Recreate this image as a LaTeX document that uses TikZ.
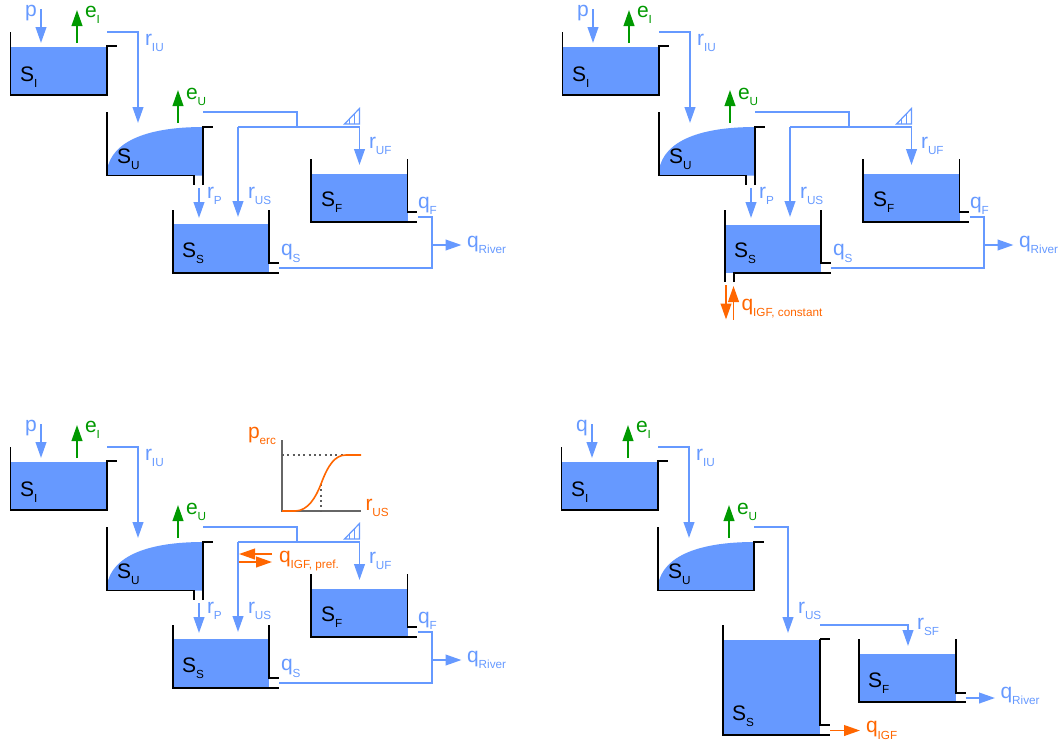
\documentclass[tikz,border=0pt]{standalone}
\usepackage{fontspec}
\setmainfont{Liberation Sans}
\usetikzlibrary{arrows.meta}
\definecolor{flux}{HTML}{6699FF}
\definecolor{evap}{HTML}{009900}
\definecolor{igf}{HTML}{FF6600}
\definecolor{axisgrey}{HTML}{666666}
\tikzset{
  fluxline/.style={draw=flux,line width=1.45pt},
  fluxarrow/.style={fluxline,-{Triangle[length=12pt,width=8pt]}},
  evaparrow/.style={draw=evap,line width=1.45pt,-{Triangle[length=12pt,width=8pt]}},
  igfarrow/.style={draw=igf,line width=1.45pt,-{Triangle[length=12pt,width=8pt]}},
  wall/.style={draw=black,line width=1.45pt},
  water/.style={fill=flux,draw=none},
  lab/.style={anchor=base west,inner sep=0pt,outer sep=0pt},
}
\newcommand{\lbl}[4]{\node[lab,text=#3] (#1) at (#2) {\fontsize{15.75}{16}\selectfont #4};}
\newcommand{\msub}[2]{#1\raisebox{-5pt}{\fontsize{8.8}{9}\selectfont #2}}
% name, left, top, water top, right, right wall top, lip y, bottom
\newcommand{\bucket}[8]{%
  \path[water] (#2,#4) rectangle (#5,#8);
  \coordinate (#1-a) at (#2,#3);
  \coordinate (#1-b) at (#2,#8);
  \coordinate (#1-c) at (#5+9.5,#8);
  \coordinate (#1-d) at (#5+9.5,#7);
  \coordinate (#1-e) at (#5,#7);
  \coordinate (#1-f) at (#5,#6);
  \draw[wall] (#1-a) -- (#1-b) -- (#1-c);
  \draw[wall] (#1-f) -- (#1-e) -- (#1-d);
}
% upper part common to all panels
\newcommand{\upperpart}[1]{%
  \path[water] (10.5,47) rectangle (107,95);
  \coordinate (i1) at (10.5,32); \coordinate (i2) at (10.5,95); \coordinate (i3) at (107,95);
  \coordinate (i4) at (107,46); \coordinate (i5) at (117,46);
  \draw[wall] (i1) -- (i2) -- (i3) -- (i4) -- (i5);
  \path[water] (107,175.5) -- (107,170) .. controls (112,140) and (150,127) .. (203,127) -- (203,175.5) -- cycle;
  \coordinate (u1) at (107,112); \coordinate (u2) at (107,175.5); \coordinate (u3) at (194,175.5);
  \coordinate (u4) at (194,185); \coordinate (u5) at (203,185); \coordinate (u6) at (203,127); \coordinate (u7) at (213,127);
  \coordinate (u8) at (203,175.5);
  \coordinate (pa) at (41,9); \coordinate (pb) at (41,43);
  \coordinate (ea) at (77,43); \coordinate (eb) at (77,10);
  \coordinate (ra) at (107,32); \coordinate (rb) at (138,123);
  \coordinate (fa) at (178,123); \coordinate (fb) at (178,90);
  \draw[fluxarrow] (pa) -- (pb);
  \draw[evaparrow] (ea) -- (eb);
  \draw[fluxarrow] (ra) -| (rb);
  \draw[evaparrow] (fa) -- (fb);
  \lbl{lp}{25,16}{flux}{#1}
  \lbl{lei}{85,17}{evap}{\msub{e}{I}}
  \lbl{lriu}{145,45}{flux}{\msub{r}{IU}}
  \lbl{lsi}{20,81}{black}{\msub{S}{I}}
  \lbl{lsu}{117,163}{black}{\msub{S}{U}}
  \lbl{leu}{186,99}{evap}{\msub{e}{U}}
}
\newcommand{\leaky}{%
  \draw[wall] (u1) -- (u2) -- (u3) -- (u4);
  \draw[wall] (u5) -- (u6) -- (u7);
}
\newcommand{\closed}{%
  \draw[wall] (u1) -- (u2) -- (u8) -- (u6) -- (u7);
}
% routing below the unsaturated store
\newcommand{\routing}{%
  \coordinate (r1) at (203,112); \coordinate (r2) at (297,112); \coordinate (r3) at (297,127);
  \coordinate (r4) at (238,127); \coordinate (r5) at (238,217);
  \coordinate (r6) at (359.5,127); \coordinate (r7) at (359.5,165);
  \draw[fluxline] (r1) -- (r2) -- (r3);
  \draw[fluxarrow] (r4) -- (r5);
  \draw[fluxarrow] (r4) -- (r6) -- (r7);
  \coordinate (t1) at (344.5,124); \coordinate (t2) at (359.5,108.5); \coordinate (t3) at (359.5,124);
  \draw[flux,line width=.9pt] (t1) -- (t2) -- (t3) -- cycle;
  \draw[flux,line width=.9pt] (349.5,124) -- (349.5,119) (354.5,124) -- (354.5,114);
  \coordinate (pp1) at (199,188); \coordinate (pp2) at (199,218);
  \draw[fluxarrow] (pp1) -- (pp2);
  \bucket{sf}{311}{159}{174}{407.5}{159}{212}{222}
  \coordinate (q1) at (418,217); \coordinate (q2) at (432,217); \coordinate (q3) at (432,268); \coordinate (q4) at (279,268);
  \coordinate (q5) at (432,245); \coordinate (q6) at (461.5,245);
  \draw[fluxline] (q1) -- (q2) -- (q3) -- (q4);
  \draw[fluxarrow] (q5) -- (q6);
  \lbl{lruf}{369,148}{flux}{\msub{r}{UF}}
  \lbl{lrp}{207,198}{flux}{\msub{r}{P}}
  \lbl{lrus}{248,198}{flux}{\msub{r}{US}}
  \lbl{lss}{182,257}{black}{\msub{S}{S}}
  \lbl{lsf}{321,206}{black}{\msub{S}{F}}
  \lbl{lqf}{418,208}{flux}{\msub{q}{F}}
  \lbl{lqs}{281,255.5}{flux}{\msub{q}{S}}
  \lbl{lqr}{467,247}{flux}{\msub{q}{River}}
}
\begin{document}
\begin{tikzpicture}[x=.75pt,y=-.75pt]
\path[use as bounding box] (0,0) rectangle (1059,747);
% panel A
\begin{scope}[name prefix=A-]
  \bucket{ss}{173}{210}{224}{269}{210}{263}{273}
  \upperpart{p}
  \leaky
  \routing
\end{scope}
% panel B
\begin{scope}[shift={(552,0)},name prefix=B-]
  \path[water] (173,224.5) rectangle (269,273);
  \upperpart{p}
  \leaky
  \routing
  \coordinate (s1) at (173,210); \coordinate (s2) at (173,282);
  \coordinate (s3) at (182,282); \coordinate (s4) at (182,273); \coordinate (s5) at (279,273);
  \coordinate (s6) at (269,210); \coordinate (s7) at (269,263); \coordinate (s8) at (279,263);
  \draw[wall] (s1) -- (s2);
  \draw[wall] (s3) -- (s4) -- (s5);
  \draw[wall] (s6) -- (s7) -- (s8);
  \coordinate (g1) at (174,285); \coordinate (g2) at (174,319.5);
  \coordinate (g3) at (181.5,319.5); \coordinate (g4) at (181.5,286);
  \draw[igfarrow] (g1) -- (g2);
  \draw[igfarrow] (g3) -- (g4);
  \lbl{lqc}{189.5,310}{igf}{\msub{q}{IGF, constant}}
\end{scope}
% panel C
\begin{scope}[shift={(0,415)},name prefix=C-]
  \bucket{ss}{173}{210}{224}{269}{210}{263}{273}
  \upperpart{p}
  \leaky
  \routing
\end{scope}
\begin{scope}[name prefix=G-]
  \coordinate (o) at (282,511); \coordinate (y) at (282,440); \coordinate (x) at (361,511);
  \coordinate (d1) at (282,455); \coordinate (d2) at (346,455);
  \coordinate (d3) at (321,484); \coordinate (d4) at (321,511);
  \draw[axisgrey,line width=1.45pt] (y) -- (o) -- (x);
  \draw[axisgrey!90!black,line width=1.45pt,dash pattern=on 1.6pt off 2.4pt] (d1) -- (d2);
  \draw[axisgrey!90!black,line width=1.45pt,dash pattern=on 1.6pt off 2.4pt] (d3) -- (d4);
  \draw[igf,line width=1.2pt] (o) -- (295,511) .. controls (308,511) and (316,497) .. (d3) .. controls (328,465) and (335,455) .. (d2) -- (361,455);
  \lbl{lpe}{248,438}{igf}{\msub{p}{erc}}
  \lbl{lru}{365.5,510}{igf}{\msub{r}{US}}
  \coordinate (h1) at (272,554); \coordinate (h2) at (239,554);
  \coordinate (h3) at (239,562); \coordinate (h4) at (272,562);
  \draw[igfarrow] (h1) -- (h2);
  \draw[igfarrow] (h3) -- (h4);
  \lbl{lqp}{279,562}{igf}{\msub{q}{IGF, pref.}}
\end{scope}
% panel D
\begin{scope}[shift={(551,415)},name prefix=D-]
  \upperpart{q}
  \closed
\end{scope}
\begin{scope}[name prefix=E-]
  \bucket{ss}{723}{625}{640}{820}{639}{725}{735}
  \coordinate (k) at (820,639); \coordinate (k2) at (829.5,639);
  \draw[wall] (k) -- (k2);
  \bucket{sf}{859}{639}{654}{956}{639}{693}{702}
  \coordinate (m1) at (754,527); \coordinate (m2) at (788,633);
  \coordinate (m3) at (820,625); \coordinate (m4) at (908,646);
  \coordinate (m5) at (830,730.5); \coordinate (m6) at (860,730.5);
  \coordinate (m7) at (965.5,698); \coordinate (m8) at (995,698);
  \draw[fluxarrow] (m1) -| (m2);
  \draw[fluxarrow] (m3) -| (m4);
  \draw[igfarrow] (m5) -- (m6);
  \draw[fluxarrow] (m7) -- (m8);
  \lbl{lss}{732,720}{black}{\msub{S}{S}}
  \lbl{lsf}{868,687}{black}{\msub{S}{F}}
  \lbl{lrus}{798,613}{flux}{\msub{r}{US}}
  \lbl{lrsf}{917,629}{flux}{\msub{r}{SF}}
  \lbl{lqr}{1000.5,698}{flux}{\msub{q}{River}}
  \lbl{lqi}{866,732.5}{igf}{\msub{q}{IGF}}
\end{scope}
\end{tikzpicture}
\end{document}
